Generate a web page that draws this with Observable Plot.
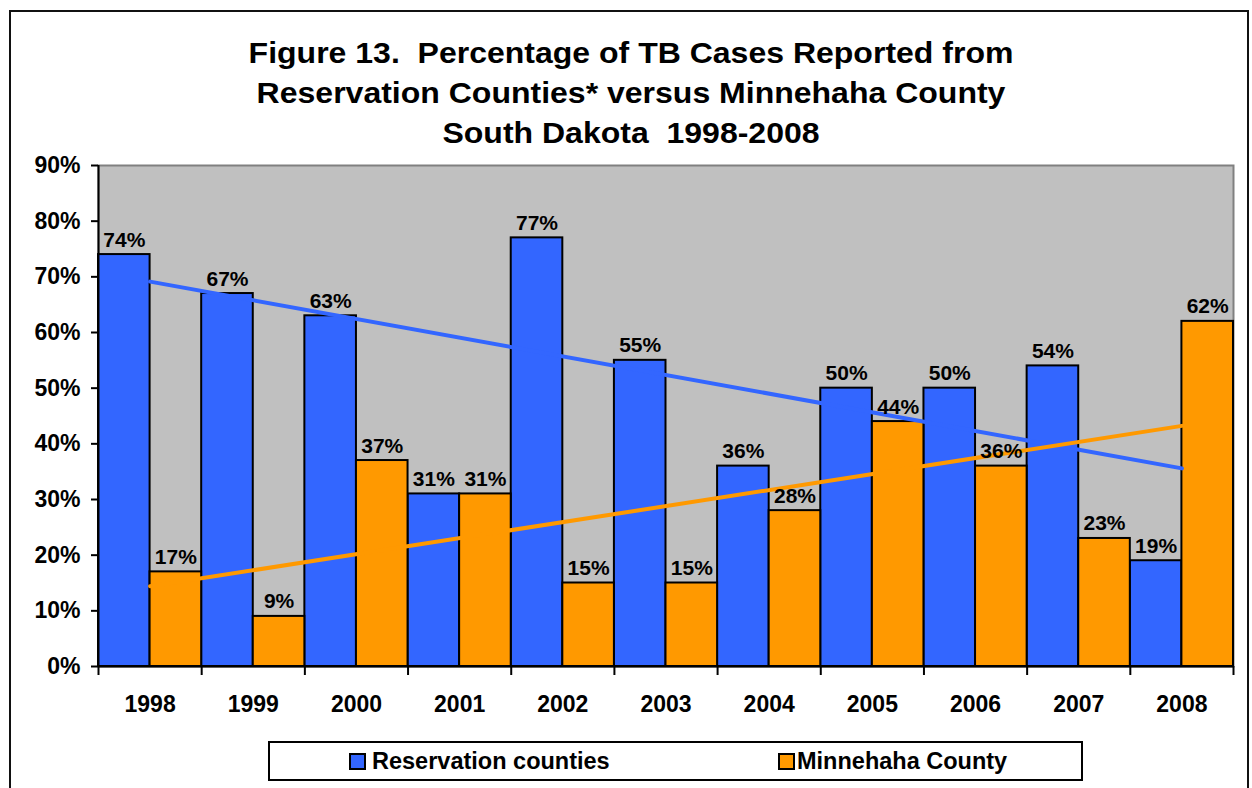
<!DOCTYPE html>
<html>
<head>
<meta charset="utf-8">
<script src="https://cdn.jsdelivr.net/npm/d3@7"></script>
<script src="https://cdn.jsdelivr.net/npm/@observablehq/plot@0.6"></script>
<style>
  html, body { margin: 0; padding: 0; background: #fff; width: 1252px; height: 788px; overflow: hidden; }
  body { position: relative; font-family: "Liberation Sans", Arial, sans-serif; }
  #frame { position: absolute; left: 9px; top: 10px; width: 1240px; height: 800px; border: 2px solid #111; box-sizing: border-box; }
  #title { position: absolute; left: 0; top: 33px; width: 1262px; text-align: center; font-weight: bold; font-size: 29.5px; line-height: 40px; white-space: pre; color: #000; transform: scaleX(1.085); transform-origin: 631px 0; }
  #chart { position: absolute; left: 0; top: 140px; }
  #legend { position: absolute; left: 268px; top: 741px; width: 815px; height: 40px; border: 2px solid #000; box-sizing: border-box; background: #fff; }
  .item { position: absolute; top: 0; height: 36px; line-height: 36px; font-weight: bold; font-size: 23.5px; white-space: nowrap; color: #000; }
  .sw { position: absolute; top: 10px; width: 13px; height: 13px; border: 2px solid #000; }
</style>
</head>
<body>
<div id="frame"></div>
<div id="title"></div>
<div id="chart"></div>
<div id="legend"></div>
<script>
const titleLines = ["Figure 13.  Percentage of TB Cases Reported from", "Reservation Counties* versus Minnehaha County", "South Dakota  1998-2008"];
const years = ["1998", "1999", "2000", "2001", "2002", "2003", "2004", "2005", "2006", "2007", "2008"];
const reservation = [74, 67, 63, 31, 77, 55, 36, 50, 50, 54, 19];
const minnehaha = [17, 9, 37, 31, 15, 15, 28, 44, 36, 23, 62];
const yTicks = [0, 10, 20, 30, 40, 50, 60, 70, 80, 90];
const seriesNames = ["Reservation counties", "Minnehaha County"];
const seriesColors = ["#3366ff", "#ff9900"];

document.getElementById("title").textContent = titleLines.join("\n");

const rows = years.map((y, i) => ({i, year: y, res: reservation[i], min: minnehaha[i]}));
const bounds = d3.range(years.length + 1).map(k => k - 0.5);
const FONT = '"Liberation Sans", Arial, sans-serif';

const chart = Plot.plot({
  width: 1252,
  height: 580,
  marginTop: 25,
  marginBottom: 54,
  marginLeft: 98,
  marginRight: 19,
  style: {fontFamily: FONT, fontSize: "23px", fontWeight: "bold", color: "#000", background: "transparent", overflow: "visible"},
  x: {type: "linear", domain: [-0.5, years.length - 0.5]},
  y: {domain: [0, 90]},
  marks: [
    Plot.frame({fill: "#c0c0c0", stroke: "#808080", strokeWidth: 2}),
    Plot.rect(rows, {x1: d => d.i - 0.5, x2: d => d.i, y1: 0, y2: "res", fill: seriesColors[0], stroke: "#000", strokeWidth: 2}),
    Plot.rect(rows, {x1: d => d.i, x2: d => d.i + 0.5, y1: 0, y2: "min", fill: seriesColors[1], stroke: "#000", strokeWidth: 2}),
    Plot.linearRegressionY(rows, {x: "i", y: "res", stroke: seriesColors[0], strokeWidth: 4, ci: 0}),
    Plot.linearRegressionY(rows, {x: "i", y: "min", stroke: seriesColors[1], strokeWidth: 4, ci: 0}),
    Plot.text(rows, {x: d => d.i - 0.25, y: "res", text: d => d.res + "%", lineAnchor: "bottom", dy: -8, fontSize: 21, fontWeight: "bold", fill: "#000"}),
    Plot.text(rows, {x: d => d.i + 0.25, y: "min", text: d => d.min + "%", lineAnchor: "bottom", dy: -8, fontSize: 21, fontWeight: "bold", fill: "#000"}),
    Plot.ruleY([0], {stroke: "#000", strokeWidth: 2}),
    Plot.ruleX([-0.5], {stroke: "#000", strokeWidth: 2}),
    Plot.axisY({ticks: yTicks, tickFormat: d => d + "%", tickSize: 7, tickPadding: 11, strokeWidth: 2, stroke: "#000", label: null}),
    Plot.axisX({ticks: bounds, tickFormat: () => "", tickSize: 9, strokeWidth: 2, stroke: "#000", label: null}),
    Plot.axisX({ticks: d3.range(years.length), tickFormat: i => years[i], tickSize: 0, tickPadding: 29, label: null})
  ]
});
document.getElementById("chart").appendChild(chart);

const legend = document.getElementById("legend");
const legendPos = [[79, 102], [508, 527]];
seriesNames.forEach((name, k) => {
  const sw = document.createElement("div");
  sw.className = "sw";
  sw.style.left = legendPos[k][0] + "px";
  sw.style.background = seriesColors[k];
  legend.appendChild(sw);
  const t = document.createElement("div");
  t.className = "item";
  t.style.left = legendPos[k][1] + "px";
  t.textContent = name;
  legend.appendChild(t);
});
</script>
</body>
</html>
